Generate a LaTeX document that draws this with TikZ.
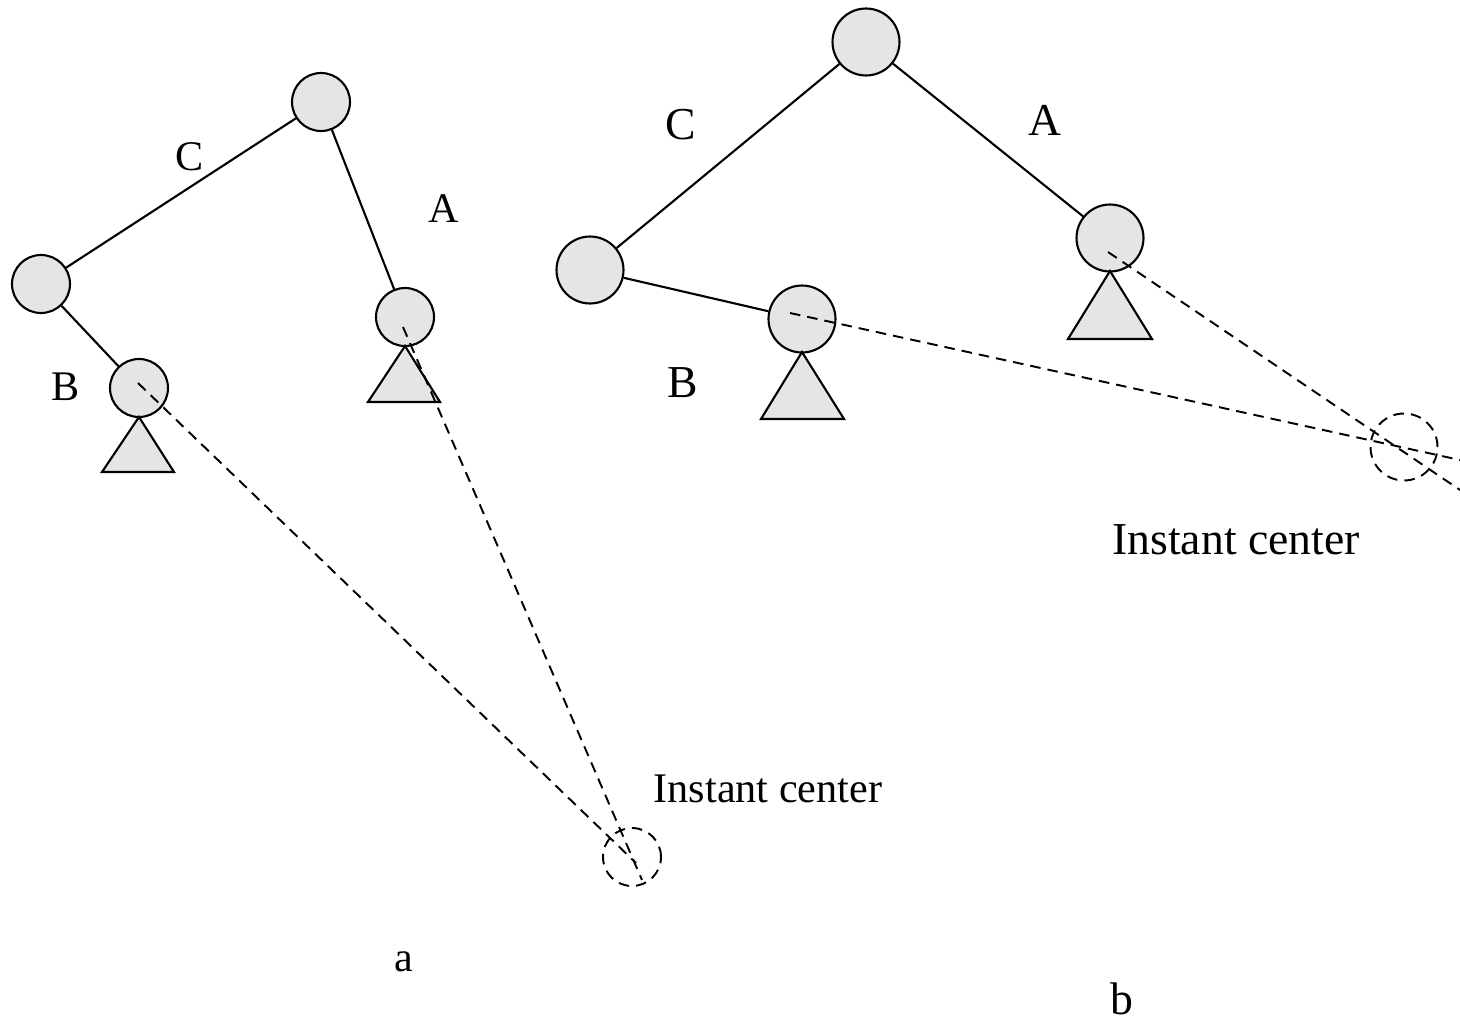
\documentclass[tikz,border=0pt]{standalone}
\usepackage{fontspec}
\setmainfont{Liberation Serif}
\begin{document}
\begin{tikzpicture}[x=0.02cm,y=-0.02cm,
  jointa/.style={circle,draw,line width=1.2pt,fill=gray!20,inner sep=0pt,minimum size=1.16cm},
  jointb/.style={circle,draw,line width=1.2pt,fill=gray!20,inner sep=0pt,minimum size=1.34cm},
  jointic/.style={circle,draw,line width=1.1pt,fill=none,inner sep=0pt,dash pattern=on 6pt off 4pt},
  link/.style={line width=1.2pt},
  ground/.style={draw,line width=1.2pt,fill=gray!20,line join=miter},
  dline/.style={line width=1.1pt,dash pattern=on 6pt off 4pt},
  lbl/.style={font=\fontsize{24}{28}\selectfont,inner sep=0pt},
  lblb/.style={font=\fontsize{26}{30}\selectfont,inner sep=0pt}]
\useasboundingbox (0,0) rectangle (1460,1024);
% ---------- figure a ----------
\node[jointa] (aT) at (321,102) {};
\node[jointa] (aL) at (41,284) {};
\node[jointa] (aB) at (139,388) {};
\node[jointa] (aA) at (405,317) {};
\node[jointic,minimum size=1.16cm] (aIC) at (632,857) {};
\draw[link] (aT) -- (aL);
\draw[link] (aT) -- (aA);
\draw[link] (aL) -- (aB);
\draw[ground] (139,417) -- (102,472) -- (174,472) -- cycle;
\draw[ground] (405,346) -- (368,402) -- (440,402) -- cycle;
\coordinate (aBs) at (138,383);
\coordinate (aAs) at (403,327);
\coordinate (aBe) at (636,863);
\coordinate (aAe) at (642,880);
\draw[dline] (aBs) -- (aBe);
\draw[dline] (aAs) -- (aAe);
\node[lbl] (aC) at (190,157) {C};
\node[lbl] (aAl) at (444,209) {A};
\node[lbl] (aBl) at (66,387) {B};
\node[lbl] (aIt) at (768,789) {Instant center};
\node[lbl] (acap) at (404,962) {a};
% ---------- figure b ----------
\node[jointb] (bT) at (866,42) {};
\node[jointb] (bL) at (590,270) {};
\node[jointb] (bB) at (802,319) {};
\node[jointb] (bA) at (1110,238) {};
\node[jointic,minimum size=1.34cm] (bIC) at (1404,447) {};
\draw[link] (bT) -- (bL);
\draw[link] (bT) -- (bA);
\draw[link] (bL) -- (bB);
\draw[ground] (802,352) -- (761,419) -- (844,419) -- cycle;
\draw[ground] (1110,271) -- (1068,339) -- (1152,339) -- cycle;
\coordinate (bBs) at (790,313);
\coordinate (bAs) at (1108,252);
\coordinate (bBe) at (1460,460);
\coordinate (bAe) at (1460,490);
\draw[dline] (bBs) -- (bBe);
\draw[dline] (bAs) -- (bAe);
\node[lblb] (bC) at (681,125) {C};
\node[lblb] (bAl) at (1045,120) {A};
\node[lblb] (bBl) at (683,383) {B};
\node[lblb] (bIt) at (1236,540) {Instant center};
\node[lblb] (bcap) at (1122,999) {b};
\end{tikzpicture}
\end{document}
